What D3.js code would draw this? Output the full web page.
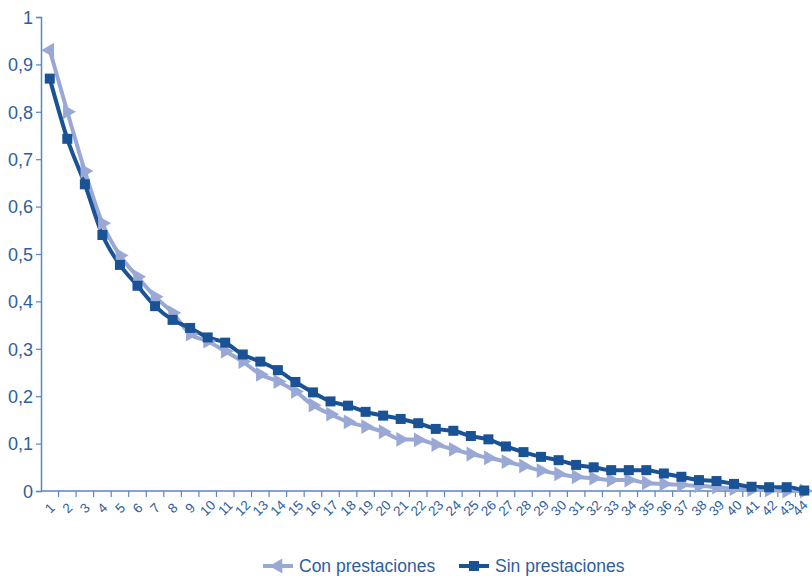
<!DOCTYPE html>
<html>
<head>
<meta charset="utf-8">
<script src="https://cdn.jsdelivr.net/npm/d3@7"></script>
<style>
  html, body { margin: 0; padding: 0; background: #fff; }
  svg { display: block; font-family: "Liberation Sans", Arial, sans-serif; }
</style>
</head>
<body>
<svg id="chart" width="812" height="580"></svg>
<script>
// Periods 1..44
const periods = d3.range(1, 45).map(String);

// Share remaining per period, with benefits
const conPrestaciones = [
  0.93, 0.80, 0.675, 0.565, 0.497, 0.452, 0.41, 0.376, 0.331, 0.316,
  0.295, 0.273, 0.246, 0.231, 0.21, 0.181, 0.162, 0.146, 0.136, 0.125,
  0.109, 0.108, 0.098, 0.088, 0.078, 0.07, 0.062, 0.053, 0.043, 0.036,
  0.03, 0.027, 0.023, 0.023, 0.017, 0.015, 0.013, 0.011, 0.008, 0.005,
  0.003, 0.002, 0.0, 0.0
];

// Share remaining per period, without benefits
const sinPrestaciones = [
  0.87, 0.743, 0.647, 0.54, 0.477, 0.433, 0.39, 0.361, 0.344, 0.324,
  0.313, 0.288, 0.273, 0.255, 0.23, 0.208, 0.189, 0.18, 0.167, 0.159,
  0.152, 0.143, 0.131, 0.127, 0.116, 0.109, 0.094, 0.082, 0.072, 0.065,
  0.055, 0.05, 0.044, 0.044, 0.044, 0.037, 0.03, 0.023, 0.021, 0.015,
  0.009, 0.008, 0.008, 0.001
];

const yTicks = [0, 0.1, 0.2, 0.3, 0.4, 0.5, 0.6, 0.7, 0.8, 0.9, 1];
const seriesNames = ["Con prestaciones", "Sin prestaciones"];

const COLOR_LIGHT = "#99a8d4";
const COLOR_DARK = "#1a5296";
const AXIS_COLOR = "#5a86c2";
const TEXT_COLOR = "#2d5e9e";

const svg = d3.select("#chart");
const plotLeft = 41, plotRight = 813, plotTop = 17, plotBottom = 491;

const x = d3.scaleBand().domain(periods).range([plotLeft, plotRight]).padding(0);
const y = d3.scaleLinear().domain([0, 1]).range([plotBottom, plotTop]);
const fmt = d => d === 0 ? "0" : d === 1 ? "1" : d3.format(".1f")(d).replace(".", ",");

// Y axis
const yAxis = svg.append("g")
  .attr("transform", `translate(${plotLeft},0)`)
  .call(d3.axisLeft(y).tickValues(yTicks).tickFormat(fmt).tickSize(5).tickPadding(3));
yAxis.select(".domain").attr("stroke", AXIS_COLOR).attr("stroke-width", 1.5);
yAxis.selectAll(".tick line").attr("stroke", AXIS_COLOR).attr("stroke-width", 1.2);
yAxis.selectAll(".tick text")
  .attr("fill", TEXT_COLOR).attr("font-size", 18).attr("dy", "0.35em")
  .attr("font-family", "Liberation Sans, Arial, sans-serif");

// X axis: ticks on band boundaries, labels centred in bands
const xAxis = svg.append("g").attr("transform", `translate(0,${plotBottom})`);
xAxis.append("line")
  .attr("x1", plotLeft).attr("x2", plotRight).attr("y1", 0).attr("y2", 0)
  .attr("stroke", AXIS_COLOR).attr("stroke-width", 1.5);
xAxis.selectAll("line.tick")
  .data(periods)
  .join("line")
  .attr("class", "tick")
  .attr("x1", d => x(d) + x.bandwidth()).attr("x2", d => x(d) + x.bandwidth())
  .attr("y1", 0).attr("y2", 6)
  .attr("stroke", AXIS_COLOR).attr("stroke-width", 1.2);
// keep the rightmost label inside the canvas
const labelX = d => Math.min(x(d) + x.bandwidth() / 2, 800);
xAxis.selectAll("text")
  .data(periods)
  .join("text")
  .attr("transform", d => `translate(${labelX(d)},${17}) rotate(-45)`)
  .attr("text-anchor", "middle")
  .attr("dy", "0.35em")
  .attr("fill", TEXT_COLOR)
  .attr("font-size", 13.5)
  .text(d => d);

const cx = i => x(periods[i]) + x.bandwidth() / 2;

const line = d3.line()
  .x((d, i) => cx(i))
  .y(d => y(d))
  .curve(d3.curveMonotoneX);

// Series lines
svg.append("path")
  .datum(conPrestaciones)
  .attr("fill", "none")
  .attr("stroke", COLOR_LIGHT)
  .attr("stroke-width", 4)
  .attr("stroke-linejoin", "round")
  .attr("d", line);

svg.append("path")
  .datum(sinPrestaciones)
  .attr("fill", "none")
  .attr("stroke", COLOR_DARK)
  .attr("stroke-width", 4)
  .attr("stroke-linejoin", "round")
  .attr("d", line);

// Triangle markers (light series)
const tri = d3.symbol().type(d3.symbolTriangle).size(95);
svg.append("g").selectAll("path")
  .data(conPrestaciones)
  .join("path")
  .attr("d", tri)
  .attr("fill", COLOR_LIGHT)
  .attr("transform", (d, i) => `translate(${cx(i)},${y(d)}) rotate(${i === 0 ? -90 : 90})`);

// Square markers (dark series)
svg.append("g").selectAll("rect")
  .data(sinPrestaciones)
  .join("rect")
  .attr("x", (d, i) => cx(i) - 5)
  .attr("y", d => y(d) - 5)
  .attr("width", 10)
  .attr("height", 10)
  .attr("fill", COLOR_DARK);

// Legend
const legend = svg.append("g").attr("transform", "translate(0,566)");
const legendItems = [
  { name: seriesNames[0], color: COLOR_LIGHT, x0: 263, kind: "tri" },
  { name: seriesNames[1], color: COLOR_DARK, x0: 459, kind: "sq" }
];
legendItems.forEach(it => {
  const g = legend.append("g");
  g.append("line")
    .attr("x1", it.x0).attr("x2", it.x0 + 30)
    .attr("y1", 0).attr("y2", 0)
    .attr("stroke", it.color).attr("stroke-width", 4);
  if (it.kind === "tri") {
    g.append("path").attr("d", tri).attr("fill", it.color)
      .attr("transform", `translate(${it.x0 + 15},0) rotate(-90)`);
  } else {
    g.append("rect").attr("x", it.x0 + 15 - 5).attr("y", -5)
      .attr("width", 10).attr("height", 10).attr("fill", it.color);
  }
  g.append("text")
    .attr("x", it.x0 + 36).attr("y", 0).attr("dy", "0.35em")
    .attr("fill", TEXT_COLOR).attr("font-size", 17.5)
    .text(it.name);
});
</script>
</body>
</html>
